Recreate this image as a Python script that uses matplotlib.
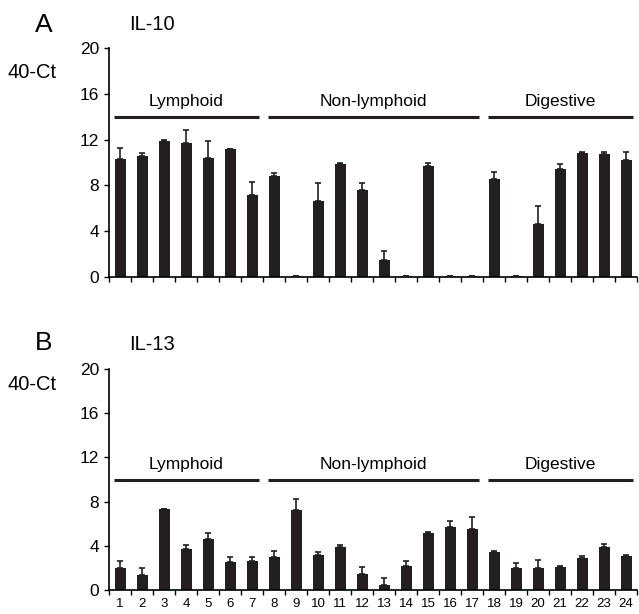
import numpy as np
import matplotlib.pyplot as plt

plt.rcParams['font.family'] = ['Liberation Sans', 'DejaVu Sans']

# tissues 1..24
tejidos = np.arange(1, 25)

# IL-10 (panel A)
il10_media = [10.3, 10.6, 11.9, 11.7, 10.4, 11.2, 7.2,
              8.8, 0.08, 6.6, 9.9, 7.6, 1.5, 0.08, 9.7, 0.08, 0.08,
              8.6, 0.08, 4.6, 9.4, 10.8, 10.75, 10.2]
il10_err = [1.0, 0.2, 0.1, 1.1, 1.5, 0.0, 1.1,
            0.3, 0.0, 1.6, 0.05, 0.6, 0.8, 0.0, 0.3, 0.0, 0.0,
            0.6, 0.0, 1.6, 0.45, 0.1, 0.2, 0.75]

# IL-13 (panel B)
il13_media = [2.0, 1.33, 7.34, 3.75, 4.62, 2.5, 2.6,
              2.96, 7.25, 3.17, 3.87, 1.42, 0.45, 2.2, 5.2, 5.7, 5.5,
              3.47, 2.0, 2.0, 2.1, 2.87, 3.93, 3.08]
il13_err = [0.6, 0.67, 0.03, 0.33, 0.52, 0.5, 0.4,
            0.54, 0.95, 0.23, 0.21, 0.68, 0.65, 0.4, 0.05, 0.5, 1.1,
            0.03, 0.45, 0.7, 0.03, 0.23, 0.27, 0.12]

grupos = ["Lymphoid", "Non-lymphoid", "Digestive"]
grupo_inicio = [1, 8, 18]
grupo_fin = [7, 17, 24]

W, H = 639, 614
fig = plt.figure(figsize=(W / 100, H / 100), dpi=100)


def ejes_px(izq, arriba, der, abajo):
    return fig.add_axes([izq / W, 1 - abajo / H, (der - izq) / W, (abajo - arriba) / H])


def dibujar_panel(ax, media, err, y_linea, y_texto, etiquetas_x):
    ax.bar(tejidos, media, width=0.5, color='#231f20', zorder=2)
    ax.errorbar(tejidos, media, yerr=[np.zeros(len(err)), err], fmt='none',
                ecolor='#231f20', elinewidth=1.2, capsize=2.2, capthick=1.2, zorder=3)
    for nombre, a, b in zip(grupos, grupo_inicio, grupo_fin):
        ax.plot([a - 0.28, b + 0.32], [y_linea, y_linea], color='#231f20', lw=2.2,
                solid_capstyle='butt', clip_on=False)
        ax.text((a + b) / 2, y_texto, nombre, ha='center', va='center', fontsize=12.5)
    ax.set_xlim(0.5, 24.5)
    ax.set_ylim(0, 20)
    ax.set_yticks([0, 4, 8, 12, 16, 20])
    ax.tick_params(axis='y', labelsize=12.5, length=3.5, width=1, direction='out', pad=3.5)
    ax.set_xticks(tejidos)
    ax.set_xticks(np.arange(0.5, 25, 1), minor=True)
    ax.tick_params(axis='x', which='major', length=0, pad=6, labelsize=9.5)
    ax.tick_params(axis='x', which='minor', length=3.5, width=1, direction='out')
    if not etiquetas_x:
        ax.set_xticklabels([])
    for lado in ['top', 'right']:
        ax.spines[lado].set_visible(False)
    for lado in ['left', 'bottom']:
        ax.spines[lado].set_linewidth(1.2)


ax_a = ejes_px(109, 48, 637, 277)
dibujar_panel(ax_a, il10_media, il10_err, 14.0, 15.3, False)

ax_b = ejes_px(109, 369, 637, 590)
dibujar_panel(ax_b, il13_media, il13_err, 10.0, 11.4, True)


def texto_px(x, y, s, tam):
    fig.text(x / W, 1 - y / H, s, fontsize=tam, ha='left', va='center')


texto_px(35, 25, "A", 19)
texto_px(129, 24, "IL-10", 14.5)
texto_px(7, 73, "40-Ct", 14.5)
texto_px(35, 343, "B", 19)
texto_px(129, 344, "IL-13", 14.5)
texto_px(7, 385, "40-Ct", 14.5)

fig.savefig("out.png", dpi=100)
